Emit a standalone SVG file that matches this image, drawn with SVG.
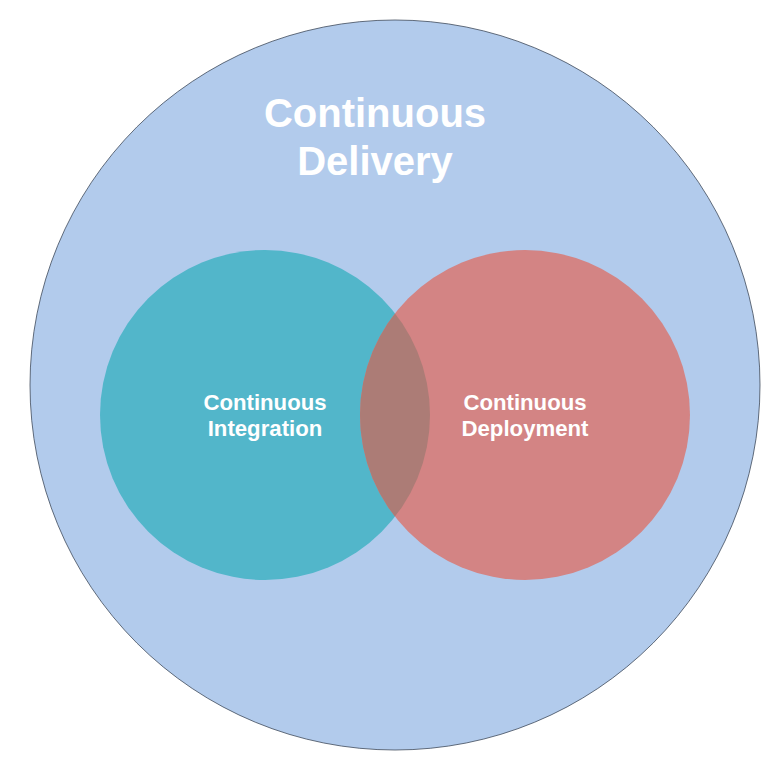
<svg xmlns="http://www.w3.org/2000/svg" width="781" height="771" viewBox="0 0 781 771">
<defs>
<style>
.t{font-family:"Liberation Sans",Arial,sans-serif;font-weight:bold;fill:#ffffff;text-anchor:middle}
.big{font-size:40px}
.small{font-size:22.2px}
</style>
<clipPath id="lens"><circle cx="265" cy="415" r="165"/></clipPath>
</defs>
<rect width="781" height="771" fill="#ffffff"/>
<g id="cd">
<circle cx="395" cy="385" r="365" fill="#b2cbec" stroke="#3f4a5a" stroke-width="0.8"/>
<text class="t big" x="375" y="127">Continuous</text>
<text class="t big" x="375" y="175">Delivery</text>
</g>
<g id="ci">
<circle cx="265" cy="415" r="165" fill="#52b6ca"/>
</g>
<g id="cdep">
<circle cx="525" cy="415" r="165" fill="#d38484"/>
<circle cx="525" cy="415" r="165" fill="#ac7c76" clip-path="url(#lens)"/>
</g>
<g id="labels">
<text class="t small" x="265" y="410">Continuous</text>
<text class="t small" x="265" y="436">Integration</text>
<text class="t small" x="525" y="410">Continuous</text>
<text class="t small" x="525" y="436">Deployment</text>
</g>
<g id="connectors"></g>
</svg>
